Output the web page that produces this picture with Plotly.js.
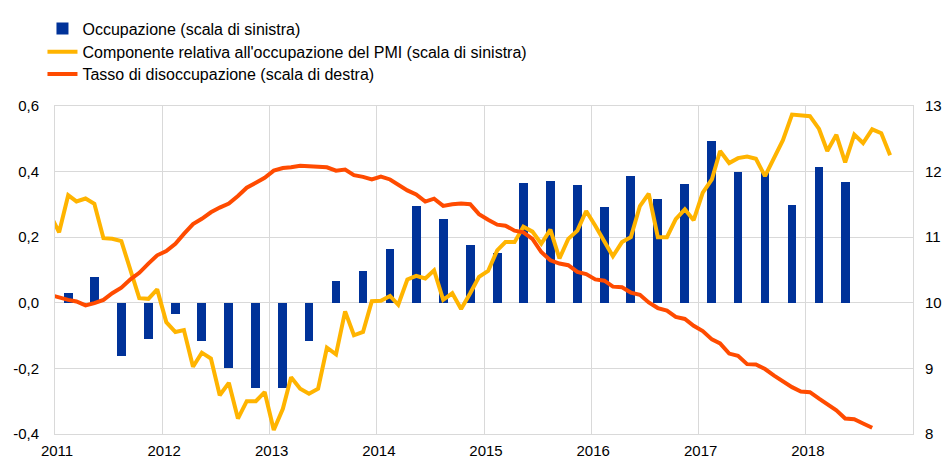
<!DOCTYPE html>
<html>
<head>
<meta charset="utf-8">
<script src="https://cdn.plot.ly/plotly-3.0.1.min.js"></script>
<style>html,body{margin:0;padding:0;background:#fff;}#chart{width:949px;height:462px;}</style>
</head>
<body>
<div id="chart"></div>
<script>
// Quarterly employment growth (left scale), 2011Q1 .. 2018Q2, plotted mid-quarter
var barDates = ['2011-02-15','2011-05-15','2011-08-15','2011-11-15',
                '2012-02-15','2012-05-15','2012-08-15','2012-11-15',
                '2013-02-15','2013-05-15','2013-08-15','2013-11-15',
                '2014-02-15','2014-05-15','2014-08-15','2014-11-15',
                '2015-02-15','2015-05-15','2015-08-15','2015-11-15',
                '2016-02-15','2016-05-15','2016-08-15','2016-11-15',
                '2017-02-15','2017-05-15','2017-08-15','2017-11-15',
                '2018-02-15','2018-05-15'];
var occupazione = [0.029, 0.080, -0.163, -0.110,
                   -0.035, -0.117, -0.199, -0.260,
                   -0.260, -0.117, 0.067, 0.097,
                   0.163, 0.294, 0.255, 0.176,
                   0.153, 0.366, 0.370, 0.358,
                   0.293, 0.386, 0.318, 0.363,
                   0.492, 0.399, 0.397, 0.299,
                   0.415, 0.367];

// Monthly PMI employment component (left scale), Dec 2010 .. Oct 2018
var pmiStart = [2010, 12];
var pmi = [0.27,
  0.215, 0.328, 0.309, 0.318, 0.302, 0.197, 0.195, 0.188, 0.100, 0.014, 0.012, 0.041,
  -0.059, -0.089, -0.083, -0.195, -0.152, -0.170, -0.282, -0.244, -0.353, -0.300, -0.300, -0.272,
  -0.388, -0.323, -0.227, -0.262, -0.277, -0.262, -0.137, -0.157, -0.026, -0.099, -0.089, 0.005,
  0.006, 0.021, -0.006, 0.071, 0.082, 0.074, 0.099, 0.009, 0.029, -0.019, 0.029, 0.079,
  0.097, 0.160, 0.185, 0.185, 0.232, 0.217, 0.180, 0.223, 0.135, 0.195, 0.220, 0.280,
  0.235, 0.185, 0.142, 0.185, 0.200, 0.295, 0.333, 0.200, 0.200, 0.255, 0.285, 0.252,
  0.336, 0.376, 0.463, 0.426, 0.441, 0.446, 0.439, 0.386, 0.441, 0.496, 0.574, 0.572,
  0.569, 0.530, 0.463, 0.512, 0.428, 0.513, 0.487, 0.529, 0.517, 0.450];

// Monthly unemployment rate (right scale), Dec 2010 .. Aug 2018
var disocStart = [2010, 12];
var disoccupazione = [10.12,
  10.08, 10.045, 10.02, 9.96, 9.995, 10.045, 10.146, 10.23, 10.357, 10.457, 10.598, 10.724,
  10.79, 10.90, 11.05, 11.20, 11.28, 11.38, 11.452, 11.513, 11.628, 11.754, 11.829, 11.905,
  12.015, 12.055, 12.065, 12.09, 12.08, 12.075, 12.065, 12.015, 12.03, 11.945, 11.92, 11.88,
  11.925, 11.88, 11.794, 11.714, 11.653, 11.543, 11.588, 11.477, 11.503, 11.513, 11.503, 11.352,
  11.266, 11.191, 11.176, 11.10, 11.075, 10.975, 10.774, 10.648, 10.598, 10.573, 10.472, 10.437,
  10.357, 10.337, 10.246, 10.236, 10.156, 10.121, 10.005, 9.92, 9.88, 9.784, 9.754, 9.65,
  9.568, 9.442, 9.382, 9.226, 9.191, 9.065, 9.060, 8.99, 8.89, 8.80, 8.714, 8.648,
  8.638, 8.538, 8.447, 8.362, 8.236, 8.226, 8.161, 8.095];

var seriesNames = ['Occupazione (scala di sinistra)',
                   "Componente relativa all'occupazione del PMI (scala di sinistra)",
                   'Tasso di disoccupazione (scala di destra)'];
var xTickVals = ['2011-01-01','2012-01-01','2013-01-01','2014-01-01','2015-01-01','2016-01-01','2017-01-01','2018-01-01'];
var xTickText = ['2011','2012','2013','2014','2015','2016','2017','2018'];
var leftTickVals = [-0.4, -0.2, 0, 0.2, 0.4, 0.6];
var leftTickText = ['-0,4', '-0,2', '0,0', '0,2', '0,4', '0,6'];
var rightTickVals = [8, 9, 10, 11, 12, 13];
var rightTickText = ['8', '9', '10', '11', '12', '13'];

function monthDates(start, n) {
  var out = [], y = start[0], m = start[1];
  for (var i = 0; i < n; i++) {
    out.push(y + '-' + (m < 10 ? '0' : '') + m + '-15');
    m++; if (m > 12) { m = 1; y++; }
  }
  return out;
}

var BLUE = '#003299', YELLOW = '#FFB400', ORANGE = '#FF4B00', GRID = '#d9d9d9';
var DAY = 86400000;

var traces = [
  {type: 'bar', name: seriesNames[0], x: barDates, y: occupazione,
   marker: {color: BLUE}, width: 30 * DAY, yaxis: 'y', legend: 'legend'},
  {type: 'scatter', mode: 'lines', name: seriesNames[1], x: monthDates(pmiStart, pmi.length), y: pmi,
   line: {color: YELLOW, width: 4}, yaxis: 'y', legend: 'legend2'},
  {type: 'scatter', mode: 'lines', name: seriesNames[2], x: monthDates(disocStart, disoccupazione.length), y: disoccupazione,
   line: {color: ORANGE, width: 4}, yaxis: 'y2', legend: 'legend3'}
];

var FONTFAM = 'Liberation Sans, Arial, sans-serif';
var TICKFONT = {family: FONTFAM, size: 15, color: '#000'};
function legendAt(y) {
  return {x: -0.0146, xanchor: 'left', y: y, yanchor: 'middle', orientation: 'v',
          bgcolor: 'rgba(0,0,0,0)', font: {family: FONTFAM, size: 16, color: '#000'},
          itemwidth: 30};
}

var layout = {
  width: 949, height: 462,
  margin: {l: 55, r: 36, t: 102, b: 28, pad: 0},
  paper_bgcolor: '#fff', plot_bgcolor: '#fff',
  font: {family: FONTFAM, size: 15, color: '#000'},
  showlegend: true,
  legend: legendAt(1.2358),
  legend2: legendAt(1.1648),
  legend3: legendAt(1.0973),
  bargap: 0,
  xaxis: {type: 'date', range: ['2011-01-01', '2019-01-01'], tickvals: xTickVals, ticktext: xTickText,
          showgrid: true, gridcolor: GRID, gridwidth: 1,
          showline: true, mirror: true, linecolor: GRID, linewidth: 1,
          ticks: '', ticklabelstandoff: 3, ticklabelshift: 2, zeroline: false,
          tickfont: TICKFONT},
  yaxis: {range: [-0.4, 0.6], tickvals: leftTickVals, ticktext: leftTickText,
          showgrid: true, gridcolor: GRID, gridwidth: 1, zeroline: false,
          showline: true, mirror: true, linecolor: GRID, linewidth: 1,
          ticks: '', ticklabelstandoff: 12, tickfont: TICKFONT},
  yaxis2: {range: [8, 13], overlaying: 'y', side: 'right', tickvals: rightTickVals, ticktext: rightTickText,
           showgrid: false, zeroline: false, showline: false,
           ticks: '', ticklabelstandoff: 11, tickfont: TICKFONT}
};

Plotly.newPlot('chart', traces, layout, {displayModeBar: false, staticPlot: true});
</script>
</body>
</html>
